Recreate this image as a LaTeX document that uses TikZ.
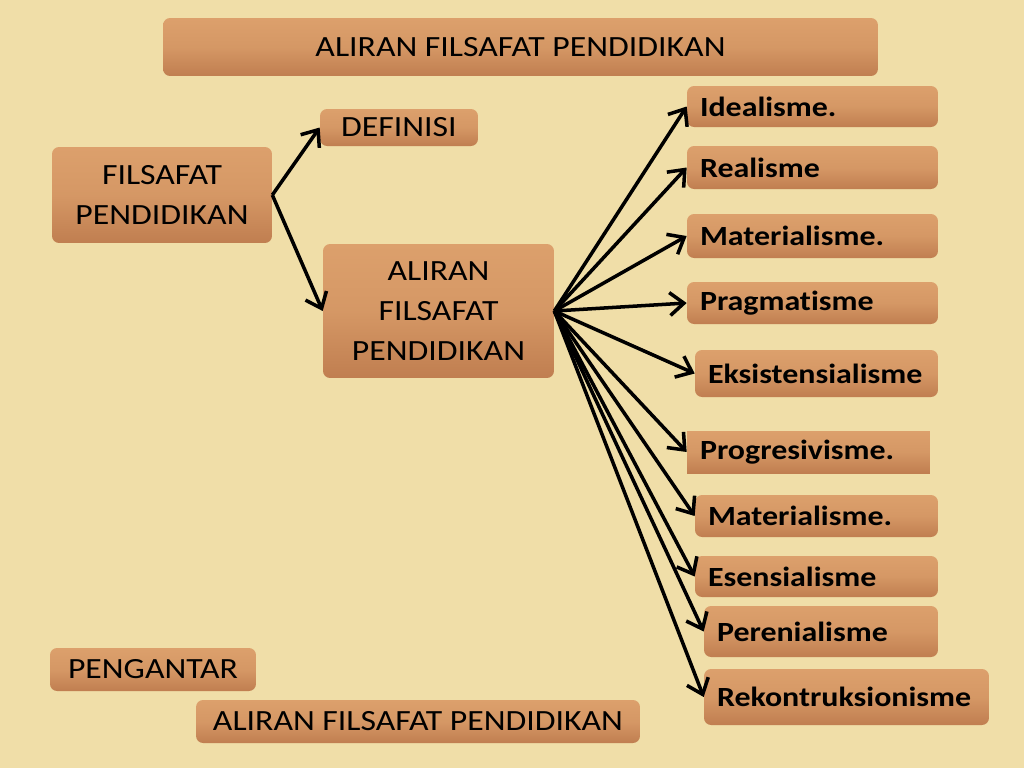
\documentclass[tikz,border=0pt]{standalone}
\usepackage{fontspec}
\setmainfont[FakeStretch=1.15, Ligatures=NoCommon]{Carlito}
\usetikzlibrary{arrows.meta}
\definecolor{parchment}{RGB}{240, 222, 168}
\definecolor{woodlight}{RGB}{220, 160, 108}
\definecolor{wooddark}{RGB}{192, 126, 80}

\tikzset{
  woodbox/.style={top color=woodlight, bottom color=wooddark, middle color=woodlight!75!wooddark, rounded corners=4pt, inner sep=0pt, align=center, font=\fontsize{16.7}{22.7}\selectfont},
  itembox/.style={woodbox, inner xsep=0.26cm, font=\bfseries\fontsize{15.8}{18}\selectfont, align=left},
  branch/.style={-{Straight Barb[length=8pt, width=13pt, line width=2pt]}, line width=2pt, black}
}

\begin{document}
\begin{tikzpicture}[x=0.02cm, y=-0.02cm]
% paper
\fill[parchment] (0,0) rectangle (1024,768);

% heading boxes
\node[woodbox, minimum width=14.3cm, minimum height=1.16cm] (title) at (520.5,47) {ALIRAN FILSAFAT PENDIDIKAN};
\node[woodbox, minimum width=3.16cm, minimum height=0.74cm] (definisi) at (399,127.5) {DEFINISI};
\node[woodbox, minimum width=4.4cm, minimum height=1.92cm] (filsafat) at (162,195) {FILSAFAT\\PENDIDIKAN};
\node[woodbox, minimum width=4.62cm, minimum height=2.68cm] (aliran) at (438.5,311) {ALIRAN\\FILSAFAT\\PENDIDIKAN};

% list of aliran
\node[itembox, text width=4.5cm, minimum height=0.82cm] (idealisme) at (812.5,106.5) {Idealisme.};
\node[itembox, text width=4.5cm, minimum height=0.86cm] (realisme) at (812.5,167.5) {Realisme};
\node[itembox, text width=4.5cm, minimum height=0.88cm] (materialA) at (812.5,236) {Materialisme.};
\node[itembox, text width=4.5cm, minimum height=0.84cm] (pragmatisme) at (812.5,303) {Pragmatisme};
\node[itembox, text width=4.34cm, minimum height=0.94cm] (eksistensi) at (816.5,373.5) {Eksistensialisme};
\node[itembox, rounded corners=0pt, text width=4.34cm, minimum height=0.84cm] (progresif) at (808.5,452) {Progresivisme.};
\node[itembox, text width=4.34cm, minimum height=0.84cm] (materialB) at (816.5,516) {Materialisme.};
\node[itembox, text width=4.34cm, minimum height=0.82cm] (esensial) at (816.5,576.5) {Esensialisme};
\node[itembox, text width=4.16cm, minimum height=1.02cm] (perenial) at (821,631.5) {Perenialisme};
\node[itembox, text width=5.18cm, minimum height=1.12cm] (rekon) at (846.5,697) {Rekontruksionisme};

% bottom
\node[woodbox, minimum width=4.12cm, minimum height=0.86cm] (pengantar) at (153,669.5) {PENGANTAR};
\node[woodbox, minimum width=8.88cm, minimum height=0.86cm] (aliranB) at (418,721.5) {ALIRAN FILSAFAT PENDIDIKAN};

% arrows
\draw[branch] (filsafat.east) -- (definisi.west);
\draw[branch] (filsafat.east) -- (aliran.west);
\foreach \n in {idealisme, realisme, materialA, pragmatisme, eksistensi, progresif, materialB, esensial, perenial, rekon}
  \draw[branch] (aliran.east) -- (\n.west);
\end{tikzpicture}
\end{document}
